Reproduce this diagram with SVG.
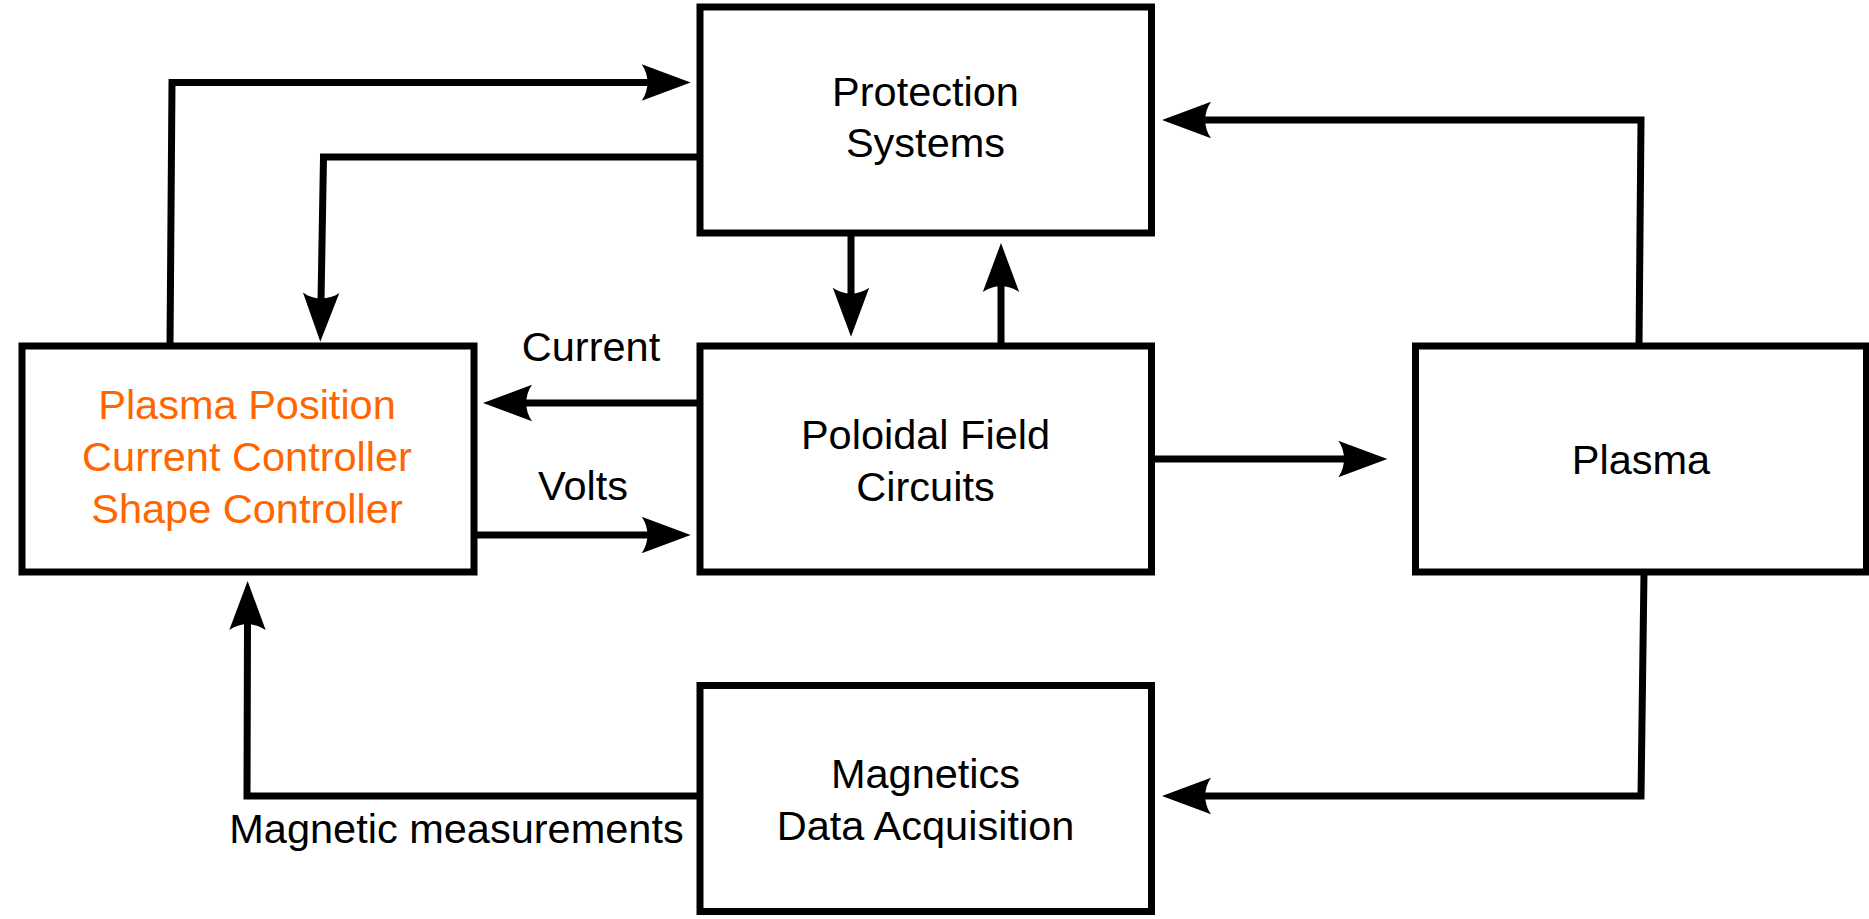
<svg xmlns="http://www.w3.org/2000/svg" width="1869" height="919" viewBox="0 0 1869 919">
  <style>
    .box { fill: #ffffff; stroke: #000000; stroke-width: 7; }
    .lbl { font-family: "Liberation Sans", Arial, sans-serif; font-size: 41.5px; fill: #000000; text-anchor: middle; }
    .ctl { fill: #ff6600; }
    .wire { fill: none; stroke: #000000; stroke-width: 7; stroke-linejoin: miter; }
  </style>
  <defs>
    <!-- concave-backed arrowhead; the line ends 40 units short of the tip -->
    <marker id="arrow" markerUnits="userSpaceOnUse" orient="auto" refX="0" refY="0"
            markerWidth="60" markerHeight="40" overflow="visible">
      <path d="M40.5,0 L-8.5,-18.2 C-0.8,-7.4 -0.8,7.4 -8.5,18.2 Z" fill="#000000"/>
    </marker>
  </defs>

  <rect width="1869" height="919" fill="#ffffff"/>

  <g id="protection-systems">
    <rect class="box" x="700" y="7" width="451.5" height="226"/>
    <text class="lbl" x="925.5" y="106">Protection</text>
    <text class="lbl" x="925.5" y="157">Systems</text>
  </g>

  <g id="poloidal-field-circuits">
    <rect class="box" x="700" y="346" width="451.5" height="226"/>
    <text class="lbl" x="925.5" y="449">Poloidal Field</text>
    <text class="lbl" x="925.5" y="501">Circuits</text>
  </g>

  <g id="magnetics-daq">
    <rect class="box" x="700" y="685.5" width="451.5" height="226"/>
    <text class="lbl" x="925.5" y="788">Magnetics</text>
    <text class="lbl" x="925.5" y="840">Data Acquisition</text>
  </g>

  <g id="controller">
    <rect class="box" x="22" y="346" width="452" height="226"/>
    <text class="lbl ctl" x="247" y="419">Plasma Position</text>
    <text class="lbl ctl" x="247" y="471">Current Controller</text>
    <text class="lbl ctl" x="247" y="523">Shape Controller</text>
  </g>

  <g id="plasma">
    <rect class="box" x="1415.5" y="346" width="451" height="226"/>
    <text class="lbl" x="1641" y="474">Plasma</text>
  </g>

  <g id="connectors">
    <path class="wire" d="M170,346 L172,82.5 L650.2,82.5" marker-end="url(#arrow)"/>
    <path class="wire" d="M700,157 L323.5,157 L321,301.2" marker-end="url(#arrow)"/>
    <path class="wire" d="M851,233 L851,296.2" marker-end="url(#arrow)"/>
    <path class="wire" d="M1001,346 L1001,283.5" marker-end="url(#arrow)"/>
    <path class="wire" d="M1639,346 L1641,120 L1202.5,120" marker-end="url(#arrow)"/>
    <path class="wire" d="M1151,459 L1346.8,459" marker-end="url(#arrow)"/>
    <path class="wire" d="M1644,572 L1641,796 L1202.5,796" marker-end="url(#arrow)"/>
    <path class="wire" d="M700,796 L247,796 L247.5,621.5" marker-end="url(#arrow)"/>
    <path class="wire" d="M700,403 L523.5,403" marker-end="url(#arrow)"/>
    <path class="wire" d="M474,535 L650.2,535" marker-end="url(#arrow)"/>

    <text class="lbl" x="591" y="361">Current</text>
    <text class="lbl" x="583" y="500">Volts</text>
    <text class="lbl" x="456.5" y="843">Magnetic measurements</text>
  </g>
</svg>
